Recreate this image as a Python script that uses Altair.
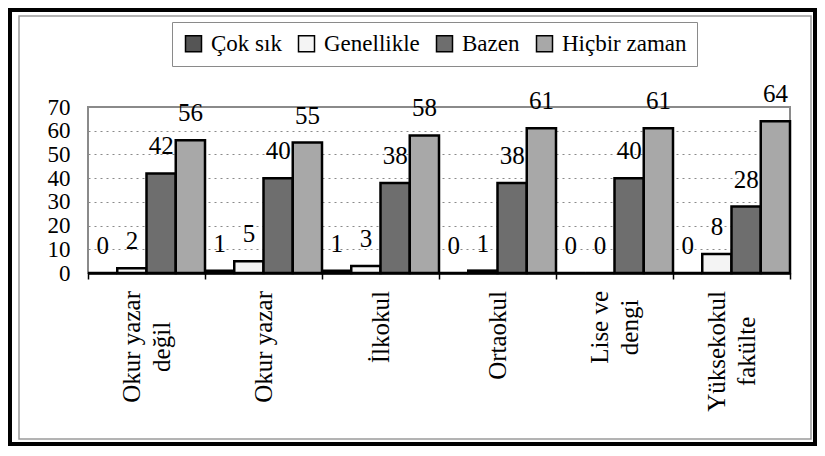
import altair as alt
import pandas as pd

# ---- data ----
category_lines = [["Okur yazar", "değil"], ["Okur yazar"], ["İlkokul"], ["Ortaokul"],
                  ["Lise ve", "dengi"], ["Yüksekokul", "fakülte"]]
series = ["Çok sık", "Genellikle", "Bazen", "Hiçbir zaman"]
cok_sik = [0, 1, 1, 0, 0, 0]
genellikle = [2, 5, 3, 1, 0, 8]
bazen = [42, 40, 38, 38, 40, 28]
hicbir = [56, 55, 58, 61, 61, 64]
y_ticks = [0, 10, 20, 30, 40, 50, 60, 70]
fills = ["#555555", "#f4f4f4", "#6e6e6e", "#a8a8a8"]

# Times-metric advance widths (em): used to anchor the centred, rotated
# category labels by their top end, as in the reference
ADV = {"O": .722, "k": .5, "u": .5, "r": .333, " ": .25, "y": .5, "a": .444, "z": .444,
       "İ": .333, "l": .278, "o": .5, "t": .278, "L": .611, "i": .278, "s": .389,
       "e": .444, "v": .5, "Y": .722, "ü": .5}
LABEL_SIZE = 25
LINE_H = 30
GAP = 18

categories = ["\n".join(lines) for lines in category_lines]

rows = []
for s, vals in zip(series, [cok_sik, genellikle, bazen, hicbir]):
    for c, v in zip(categories, vals):
        rows.append({"cat": c, "series": s, "value": v})
df = pd.DataFrame(rows)
cat_df = pd.DataFrame({"cat": categories})

FONT = "Liberation Serif"
W, H = 702, 166

x_enc = alt.X("cat:N", sort=categories,
              scale=alt.Scale(paddingInner=0, paddingOuter=0),
              axis=alt.Axis(title=None, labels=False,
                            domainColor="black", domainWidth=2.5,
                            tickColor="black", tickWidth=1.5, tickSize=6,
                            tickBand="extent", grid=False))
xo_enc = alt.XOffset("series:N", sort=series,
                     scale=alt.Scale(paddingInner=0, paddingOuter=0))
y_enc = alt.Y("value:Q", scale=alt.Scale(domain=[0, 70], nice=False),
              axis=alt.Axis(title=None, values=y_ticks, labelFont=FONT,
                            labelFontSize=23, labelColor="black", labelPadding=18,
                            labelOverlap=False, ticks=False, domain=False, grid=True,
                            gridColor="#8a8a8a", gridDash=[2, 4], gridWidth=1))

bars = alt.Chart(df).mark_bar(stroke="black", strokeWidth=2.5).encode(
    x=x_enc, xOffset=xo_enc, y=y_enc,
    fill=alt.Fill("series:N", sort=series,
                  scale=alt.Scale(domain=series, range=fills),
                  legend=alt.Legend(title=None, orient="none", legendX=84, legendY=-85,
                                    direction="horizontal", strokeColor="#8a8a8a",
                                    fillColor="white", padding=10,
                                    symbolType="square", symbolSize=256,
                                    symbolStrokeColor="black", symbolStrokeWidth=1.5,
                                    labelFont=FONT, labelFontSize=23, labelColor="black",
                                    labelOffset=6, columnPadding=13, labelLimit=300)),
)

values_text = alt.Chart(df).mark_text(dy=-19, baseline="alphabetic", font=FONT,
                                      fontSize=25, color="black").encode(
    x=x_enc, xOffset=xo_enc, y=y_enc, text="value:Q")

# category labels: rotated, lines centred on each other, block anchored at its top
cat_layers = []
for lines, c in zip(category_lines, categories):
    w1 = sum(ADV.get(ch, .5) for ch in lines[0]) * LABEL_SIZE
    shift = -(len(lines) - 1) * LINE_H / 2
    cat_layers.append(
        alt.Chart(cat_df).transform_filter(alt.FieldEqualPredicate(field="cat", equal=c))
        .mark_text(angle=270, align="center", baseline="middle", lineBreak="\n",
                   lineHeight=LINE_H, font=FONT, fontSize=LABEL_SIZE, color="black",
                   dx=-round(w1 / 2, 1), dy=shift)
        .encode(x=x_enc, y=alt.value(H + GAP), text="cat:N")
    )

frame_df = pd.DataFrame({"k": [0]})
inner_frame = alt.Chart(frame_df).mark_rect(filled=False, stroke="#9a9a9a",
                                            strokeWidth=1.5).encode(
    x=alt.value(-69), x2=alt.value(723), y=alt.value(-91), y2=alt.value(332))
outer_frame = alt.Chart(frame_df).mark_rect(filled=False, stroke="black",
                                            strokeWidth=4).encode(
    x=alt.value(-78), x2=alt.value(727), y=alt.value(-97), y2=alt.value(337))

chart = alt.layer(outer_frame, inner_frame, bars, values_text, *cat_layers).properties(
    width=W, height=H, padding=0, background="white"
).configure_view(
    stroke="#8a8a8a", strokeWidth=2
).configure_axis(
    labelFont=FONT
).configure_legend(
    labelFont=FONT
).configure_text(font=FONT)

chart.save("out.html", embed_options={"renderer": "svg", "actions": False})
